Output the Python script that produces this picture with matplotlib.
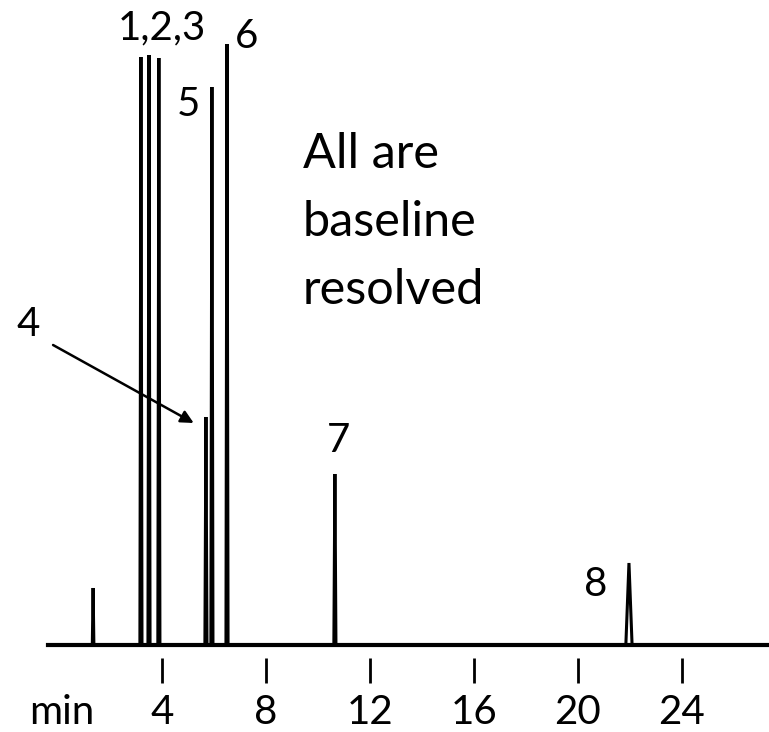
import numpy as np
import matplotlib.pyplot as plt

plt.rcParams['font.family'] = ['Lato', 'DejaVu Sans']

# retention times (min) and peak heights (arbitrary units)
peak_time = [1.35, 3.19, 3.50, 3.88, 5.69, 5.92, 6.50, 10.65, 21.96]
peak_height = [57, 588, 590, 587, 228, 558, 601, 171, 82]
peak_halfwidth = [0.03, 0.04, 0.04, 0.04, 0.04, 0.04, 0.04, 0.04, 0.12]
ticks = [4, 8, 12, 16, 20, 24]

fig = plt.figure(figsize=(7.69, 7.32), dpi=100)
ax = fig.add_axes([0, 0, 1, 1])
ax.set_xlim(-58 / 26, (769 - 58) / 26)
ax.set_ylim(-87, 645)
ax.axis('off')

# chromatogram trace built from the peaks
t = [-0.38]
s = [0]
for pt, ph, hw in zip(peak_time, peak_height, peak_halfwidth):
    t += [pt - hw, pt, pt + hw]
    s += [0, ph, 0]
t.append(27.3)
s.append(0)
ax.plot(t, s, color='black', lw=2.2, solid_joinstyle='miter')

# axis line and detached ticks
ax.plot([-0.38, 27.3], [0, 0], color='black', lw=3)
ax.vlines(ticks, -38, -13, color='black', lw=2)
for tk in ticks:
    ax.text(tk, -68, str(tk), ha='center', va='center', fontsize=29)
ax.text(0.15, -68, 'min', ha='center', va='center', fontsize=29)

# peak labels
fs = 29
ax.text(3.98, 617, '1,2,3', ha='center', va='center', fontsize=fs)
ax.text(7.27, 609, '6', ha='center', va='center', fontsize=fs)
ax.text(5.0, 540, '5', ha='center', va='center', fontsize=fs)
ax.text(10.81, 205, '7', ha='center', va='center', fontsize=fs)
ax.text(20.69, 61, '8', ha='center', va='center', fontsize=fs)
ax.text(-1.15, 320, '4', ha='center', va='center', fontsize=fs)
ax.annotate('', xy=(5.22, 222), xytext=(-0.19, 300),
            arrowprops=dict(arrowstyle='-|>', color='black', lw=1.8,
                            mutation_scale=19, shrinkA=0, shrinkB=0))
ax.text(9.42, 423, 'All are\nbaseline\nresolved', ha='left', va='center',
        fontsize=35, linespacing=1.66)

fig.savefig('out.png', dpi=100)
